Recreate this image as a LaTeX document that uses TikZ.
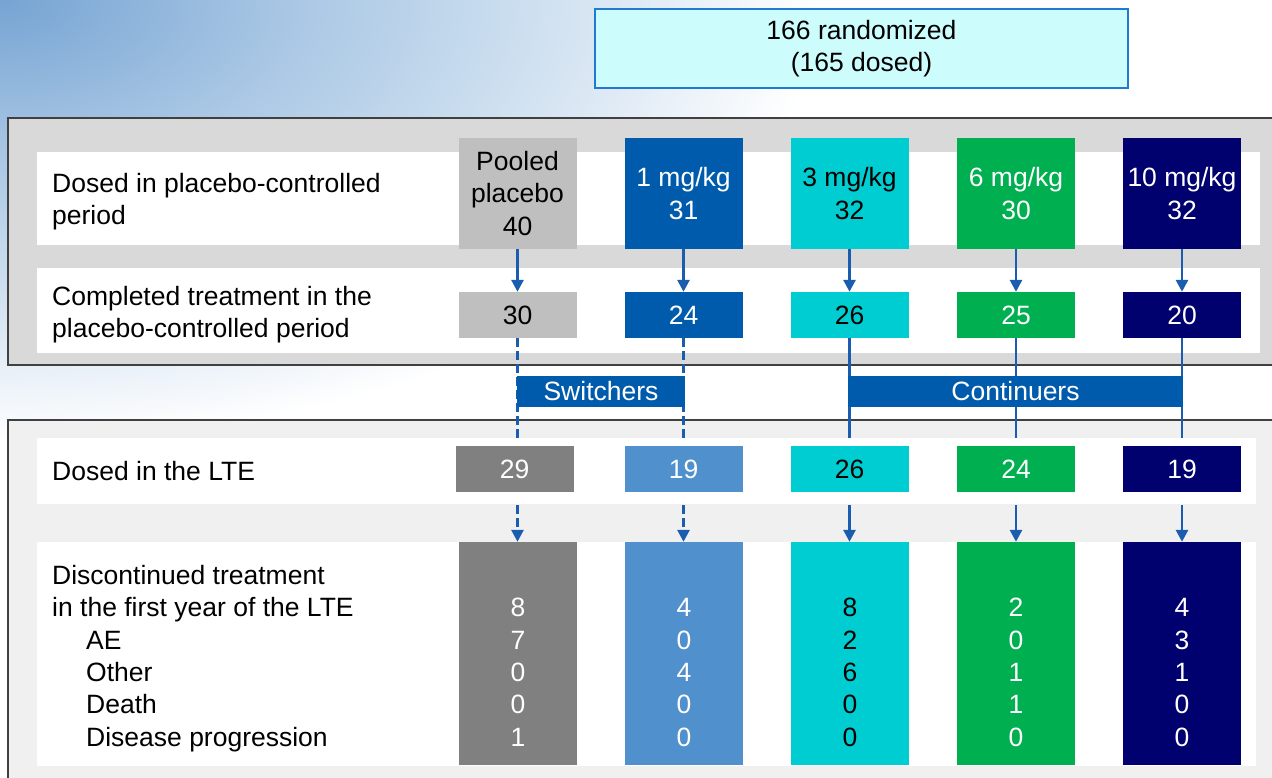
\documentclass[tikz,border=0pt]{standalone}
\usepackage{fontspec}
\setmainfont{Liberation Sans}
\usetikzlibrary{arrows.meta,calc}

% palette
\definecolor{glowA}{HTML}{76A4D3}
\definecolor{glowB}{HTML}{A8C6E4}
\definecolor{glowC}{HTML}{C8DCEE}
\definecolor{glowD}{HTML}{DFEAF5}
\definecolor{panelTop}{HTML}{D9D9D9}
\definecolor{panelLow}{HTML}{F0F0F0}
\definecolor{frame}{HTML}{404040}
\definecolor{randFill}{HTML}{CCFCFC}
\definecolor{randEdge}{HTML}{1F7AD0}
\definecolor{flowblue}{HTML}{1A5CAD}
\definecolor{plaLight}{HTML}{BFBFBF}
\definecolor{plaDark}{HTML}{808080}
\definecolor{oneDark}{HTML}{005BAC}
\definecolor{oneLight}{HTML}{5090CD}
\definecolor{three}{HTML}{00CDD1}
\definecolor{six}{HTML}{00B050}
\definecolor{ten}{HTML}{00006E}

% soft blue glow in the upper left corner
\pgfdeclareradialshading{cornerglow}{\pgfpoint{0bp}{0bp}}{%
  color(0bp)=(glowA); color(7.7bp)=(glowB); color(13.5bp)=(glowC);
  color(17.3bp)=(glowD); color(22.3bp)=(white); color(50bp)=(white)}

\begin{document}
\begin{tikzpicture}[x=1pt, y=-1pt,
  font=\fontsize{26.5}{32.3}\selectfont,
  box/.style={rectangle, minimum width=118pt, inner sep=0pt, align=center},
  rowA/.style={box, minimum height=111pt},
  rowB/.style={box, minimum height=46pt},
  rowD/.style={box, minimum height=223pt},
  lbl/.style={anchor=base west, inner sep=0pt},
  num/.style={anchor=base, inner sep=0pt},
  strip/.style={fill=white},
  link/.style={draw=flowblue, line width=2.8pt},
  dashlink/.style={link, dash pattern=on 9pt off 4pt},
  flow/.style={link, -{Triangle[length=12pt,width=12pt]}},
  dashflow/.style={dashlink, -{Triangle[length=12pt,width=12pt]}},
  bar/.style={rectangle, fill=oneDark, text=white, inner sep=0pt, minimum height=31pt}
]
\useasboundingbox (0,0) rectangle (1272,777);
\clip (0,0) rectangle (1272,777);

% background
\fill[white] (0,0) rectangle (1272,777);
\shade[shading=cornerglow] (-920,-495) rectangle (920,495);

% randomisation box
\node[rectangle, draw=randEdge, line width=2.5pt, fill=randFill,
      minimum width=533pt, minimum height=79pt, align=center, inner sep=0pt]
  (rand) at (861.5,48.5) {166 randomized\\(165 dosed)};

% panels
\draw[frame, line width=2.5pt, fill=panelTop] (8,118) rectangle (1290,365);
\draw[frame, line width=2.5pt, fill=panelLow] (8,420) rectangle (1290,800);

% white row strips
\fill[strip] (37,152) rectangle (1260,245);
\fill[strip] (37,268) rectangle (1260,353);
\fill[strip] (37,438) rectangle (1256,504);
\fill[strip] (37,542) rectangle (1256,766);

% row labels
\node[lbl] (l1a) at (52,192) {Dosed in placebo-controlled};
\node[lbl] (l1b) at (52,224) {period};
\node[lbl] (l2a) at (52,305) {Completed treatment in the};
\node[lbl] (l2b) at (52,337) {placebo-controlled period};
\node[lbl] (l3)  at (52,480.5) {Dosed in the LTE};
\node[lbl] (l4a) at (52,584.5) {Discontinued treatment};
\node[lbl] (l4b) at (52,616.8) {in the first year of the LTE};
\node[lbl] (l4c) at (86,649.1) {AE};
\node[lbl] (l4d) at (86,681.4) {Other};
\node[lbl] (l4e) at (86,713.7) {Death};
\node[lbl] (l4f) at (86,746.0) {Disease progression};

% dosed in placebo-controlled period
\node[rowA, fill=plaLight, text=black] (a1) at (517.5,193.5) {Pooled\\placebo\\40};
\node[rowA, fill=oneDark,  text=white] (a2) at (683.5,193.5) {1 mg/kg\\31};
\node[rowA, fill=three,    text=black] (a3) at (849.5,193.5) {3 mg/kg\\32};
\node[rowA, fill=six,      text=white] (a4) at (1016,193.5) {6 mg/kg\\30};
\node[rowA, fill=ten,      text=white] (a5) at (1182,193.5) {10 mg/kg\\32};

% completed placebo-controlled period
\node[rowB, fill=plaLight, text=black] (b1) at (517.5,315) {30};
\node[rowB, fill=oneDark,  text=white] (b2) at (683.5,315) {24};
\node[rowB, fill=three,    text=black] (b3) at (849.5,315) {26};
\node[rowB, fill=six,      text=white] (b4) at (1016,315) {25};
\node[rowB, fill=ten,      text=white] (b5) at (1182,315) {20};

% dosed in the LTE
\node[rowB, fill=plaDark,  text=white] (c1) at (514.5,469) {29};
\node[rowB, fill=oneLight, text=white] (c2) at (683.5,469) {19};
\node[rowB, fill=three,    text=black] (c3) at (849.5,469) {26};
\node[rowB, fill=six,      text=white] (c4) at (1016,469) {24};
\node[rowB, fill=ten,      text=white] (c5) at (1182,469) {19};

% discontinued in the first LTE year
\node[rowD, fill=plaDark]  (d1) at (518,653.5) {};
\node[rowD, fill=oneLight] (d2) at (684,653.5) {};
\node[rowD, fill=three]    (d3) at (850,653.5) {};
\node[rowD, fill=six]      (d4) at (1016,653.5) {};
\node[rowD, fill=ten]      (d5) at (1182,653.5) {};

\foreach \c/\col/\vals in {1/white/{8,7,0,0,1}, 2/white/{4,0,4,0,0},
                           3/black/{8,2,6,0,0}, 4/white/{2,0,1,1,0},
                           5/white/{4,3,1,0,0}} {
  \foreach \v [count=\k from 0] in \vals {
    \node[num, text=\col] (n\c-\k) at ($(d\c.center |- 0,616.8) + (0,32.3*\k)$) {\v};
  }
}

% arrows into the completed row
\foreach \c in {1,...,5} \draw[flow] (a\c.south) -- (b\c.north);

% switchers (dashed) and continuers (solid) into the LTE
\foreach \c in {1,2}
  \draw[dashlink, shorten >=8pt] (b\c.south) -- (b\c.south |- c\c.north);
\foreach \c in {3,4,5}
  \draw[link, shorten >=8pt] (b\c.south) -- (b\c.south |- c\c.north);

% arrows into the discontinued row
\foreach \c in {1,2}
  \draw[dashflow, shorten <=13pt] (b\c.south |- c\c.south) -- (b\c.south |- d\c.north);
\foreach \c in {3,4,5}
  \draw[flow, shorten <=13pt] (b\c.south |- c\c.south) -- (b\c.south |- d\c.north);

% group bars
\node[bar, minimum width=168pt] (sw) at (601,391.5) {Switchers};
\node[bar, minimum width=335pt] (co) at (1015.5,391.5) {Continuers};
\end{tikzpicture}
\end{document}
